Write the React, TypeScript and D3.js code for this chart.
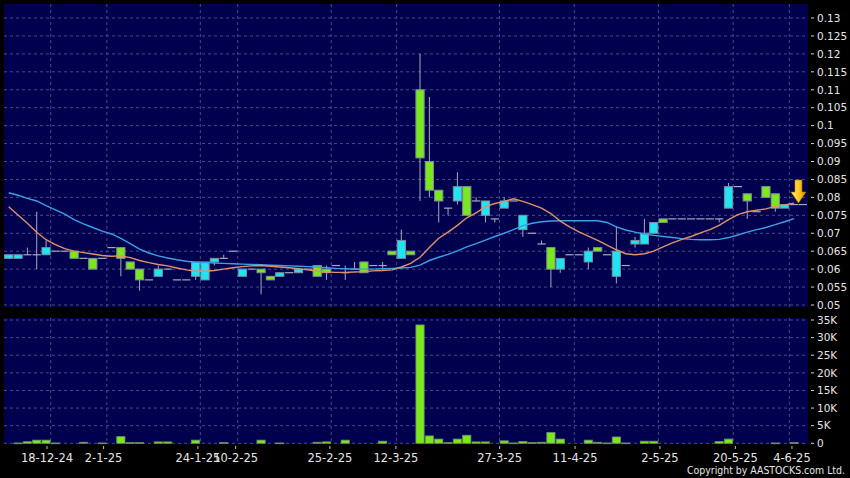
import * as d3 from 'd3';

// daily bars, oldest first (price in HKD, volume in thousands of shares)
const opens = [
  0.063, 0.063, 0.064, 0.064, 0.064, 0.065, 0.065, 0.065, 0.063, 0.063,
  0.063, 0.066, 0.066, 0.062, 0.060, 0.057, 0.058, 0.060, 0.057, 0.057,
  0.058, 0.057, 0.062, 0.063, 0.065, 0.058, 0.060, 0.060, 0.058, 0.058,
  0.059, 0.059, 0.060, 0.061, 0.060, 0.061, 0.059, 0.060, 0.062, 0.061,
  0.061, 0.065, 0.063, 0.065, 0.110, 0.090, 0.082, 0.077, 0.079, 0.083,
  0.079, 0.075, 0.074, 0.077, 0.079, 0.071, 0.070, 0.067, 0.066, 0.060,
  0.064, 0.064, 0.062, 0.066, 0.064, 0.058, 0.061, 0.067, 0.067, 0.070,
  0.074, 0.074, 0.074, 0.074, 0.074, 0.074, 0.074, 0.077, 0.083, 0.081,
  0.076, 0.083, 0.081, 0.077, 0.078,
];
const highs = [
  0.064, 0.064, 0.066, 0.076, 0.068, 0.065, 0.065, 0.065, 0.063, 0.063,
  0.063, 0.066, 0.066, 0.062, 0.060, 0.057, 0.061, 0.060, 0.057, 0.057,
  0.062, 0.062, 0.063, 0.064, 0.065, 0.060, 0.060, 0.060, 0.058, 0.059,
  0.059, 0.060, 0.060, 0.061, 0.061, 0.061, 0.061, 0.062, 0.062, 0.061,
  0.062, 0.065, 0.071, 0.065, 0.120, 0.108, 0.082, 0.077, 0.087, 0.083,
  0.080, 0.079, 0.074, 0.080, 0.079, 0.075, 0.070, 0.068, 0.066, 0.063,
  0.064, 0.064, 0.066, 0.066, 0.064, 0.072, 0.061, 0.069, 0.074, 0.073,
  0.074, 0.074, 0.074, 0.074, 0.074, 0.074, 0.074, 0.084, 0.083, 0.081,
  0.076, 0.083, 0.081, 0.078, 0.078,
];
const lows = [
  0.063, 0.063, 0.064, 0.060, 0.064, 0.065, 0.065, 0.063, 0.063, 0.060,
  0.063, 0.066, 0.058, 0.060, 0.054, 0.057, 0.058, 0.060, 0.057, 0.057,
  0.057, 0.057, 0.061, 0.063, 0.065, 0.058, 0.060, 0.053, 0.057, 0.058,
  0.059, 0.059, 0.060, 0.058, 0.057, 0.061, 0.057, 0.060, 0.059, 0.061,
  0.060, 0.064, 0.063, 0.064, 0.079, 0.080, 0.073, 0.075, 0.078, 0.075,
  0.079, 0.073, 0.073, 0.077, 0.079, 0.069, 0.070, 0.067, 0.055, 0.059,
  0.064, 0.064, 0.060, 0.065, 0.064, 0.056, 0.061, 0.066, 0.067, 0.070,
  0.073, 0.074, 0.074, 0.074, 0.074, 0.074, 0.073, 0.077, 0.083, 0.074,
  0.076, 0.080, 0.076, 0.077, 0.078,
];
const closes = [
  0.064, 0.064, 0.064, 0.064, 0.066, 0.065, 0.065, 0.063, 0.063, 0.060,
  0.063, 0.066, 0.063, 0.060, 0.057, 0.057, 0.060, 0.060, 0.057, 0.057,
  0.062, 0.062, 0.063, 0.063, 0.065, 0.060, 0.060, 0.059, 0.057, 0.059,
  0.059, 0.060, 0.060, 0.058, 0.059, 0.061, 0.059, 0.060, 0.059, 0.061,
  0.061, 0.064, 0.068, 0.064, 0.091, 0.082, 0.079, 0.077, 0.083, 0.075,
  0.079, 0.079, 0.074, 0.079, 0.079, 0.075, 0.070, 0.067, 0.060, 0.063,
  0.064, 0.064, 0.065, 0.065, 0.064, 0.065, 0.061, 0.068, 0.070, 0.073,
  0.073, 0.074, 0.074, 0.074, 0.074, 0.074, 0.074, 0.083, 0.083, 0.079,
  0.076, 0.080, 0.077, 0.078, 0.078,
];
const volumes = [
  0, 0.1, 0.45, 0.9, 0.9, 0.1, 0, 0, 0.3, 0,
  0.1, 0, 1.9, 0.2, 0.2, 0, 0.4, 0.4, 0, 0,
  0.9, 0, 0, 0.2, 0, 0, 0, 0.9, 0, 0.1,
  0, 0, 0, 0.3, 0.4, 0, 0.9, 0, 0, 0,
  0.6, 0, 0, 0, 33.6, 2.1, 1.2, 0.2, 1.2, 2.3,
  0.4, 0.4, 0, 0.7, 0.1, 0.5, 0.2, 0.3, 3.1, 1.2,
  0, 0, 0.9, 0.3, 0.1, 1.8, 0.1, 0, 0.6, 0.6,
  0, 0, 0, 0, 0, 0, 0.5, 1.2, 0, 0,
  0, 0, 0.1, 0, 0.2,
];
// moving averages as drawn (short = orange, long = blue)
const maShort = [
  0.0774, 0.0751, 0.0728, 0.0703, 0.0682, 0.0668, 0.0657, 0.0650, 0.0646, 0.0642,
  0.0638, 0.0636, 0.0637, 0.0632, 0.0624, 0.0618, 0.0613, 0.0609, 0.0603, 0.0598,
  0.0594, 0.0594, 0.0596, 0.0600, 0.0604, 0.0607, 0.0609, 0.0610, 0.0608, 0.0606,
  0.0604, 0.0601, 0.0598, 0.0594, 0.0592, 0.0591, 0.0591, 0.0592, 0.0593, 0.0595,
  0.0596, 0.0598, 0.0606, 0.0616, 0.0633, 0.0660, 0.0686, 0.0703, 0.0722, 0.0743,
  0.0757, 0.0774, 0.0783, 0.0789, 0.0796, 0.0789, 0.0780, 0.0770, 0.0755, 0.0734,
  0.0718, 0.0704, 0.0692, 0.0680, 0.0667, 0.0654, 0.0643, 0.0640, 0.0643, 0.0650,
  0.0662, 0.0673, 0.0683, 0.0691, 0.0701, 0.0710, 0.0722, 0.0738, 0.0752, 0.0760,
  0.0764, 0.0768, 0.0775, 0.0779, 0.0784,
];
const maLong = [
  0.0813, 0.0806, 0.0797, 0.0790, 0.0777, 0.0765, 0.0753, 0.0738, 0.0726, 0.0716,
  0.0706, 0.0698, 0.0686, 0.0671, 0.0656, 0.0645, 0.0637, 0.0631, 0.0626, 0.0622,
  0.0619, 0.0618, 0.0617, 0.0616, 0.0615, 0.0614, 0.0613, 0.0612, 0.0611, 0.0610,
  0.0609, 0.0608, 0.0607, 0.0606, 0.0604, 0.0602, 0.0601, 0.0600, 0.0600, 0.0600,
  0.0601, 0.0602, 0.0603, 0.0605, 0.0611, 0.0624, 0.0633, 0.0641, 0.0651, 0.0662,
  0.0671, 0.0681, 0.0691, 0.0700, 0.0710, 0.0721, 0.0728, 0.0732, 0.0734, 0.0735,
  0.0735, 0.0735, 0.0735, 0.0735, 0.0730, 0.0718, 0.0709, 0.0703, 0.0698, 0.0694,
  0.0691, 0.0688, 0.0685, 0.0683, 0.0682, 0.0682, 0.0683, 0.0688, 0.0695, 0.0703,
  0.0710, 0.0716, 0.0724, 0.0732, 0.0741,
];

const xTickBars = [4, 10, 20, 24, 34, 41, 52, 60, 69, 77, 83];
const xTickLabels = ['18-12-24', '2-1-25', '24-1-25', '10-2-25', '25-2-25', '12-3-25',
  '27-3-25', '11-4-25', '2-5-25', '20-5-25', '4-6-25'];
const priceTicks = [0.05, 0.055, 0.06, 0.065, 0.07, 0.075, 0.08, 0.085, 0.09,
  0.095, 0.1, 0.105, 0.11, 0.115, 0.12, 0.125, 0.13];
const priceTickLabels = ['0.05', '0.055', '0.06', '0.065', '0.07', '0.075', '0.08', '0.085',
  '0.09', '0.095', '0.1', '0.105', '0.11', '0.115', '0.12', '0.125', '0.13'];
const volTicks = [0, 5, 10, 15, 20, 25, 30, 35];
const volTickLabels = ['0', '5K', '10K', '15K', '20K', '25K', '30K', '35K'];

const W = 850;
const H = 478;
const plotL = 4;
const plotR = 808;
const main = { top: 4, bottom: 307 };
const vol = { top: 318, bottom: 444 };

const BG = '#00004e';
const GRID = '#4a4a88';
const UP = '#1ee4f4';
const DOWN = '#7ae81c';
const WICK = '#a9a9bb';
const FONT = '"DejaVu Sans", Verdana, sans-serif';

const App = () => {
  const n = closes.length;
  const x = d3.scaleBand<number>()
    .domain(d3.range(n + 1))
    .range([plotL, plotR])
    .padding(0);
  const step = x.step();
  const bw = step * 0.88;
  const cx = (i: number) => (x(i) ?? 0) + step / 2;
  // axis labels sit on a slightly wider scale than the bars
  const xLabel = d3.scaleLinear().domain([0, n]).range([9.3, 810.8]);

  const yP = d3.scaleLinear().domain([0.05, 0.13]).range([305, 18]);
  const yV = d3.scaleLinear().domain([0, 35]).range([443.3, 320]);

  const line = d3.line<number>()
    .x((_, i) => cx(i))
    .y((d) => yP(d))
    .curve(d3.curveLinear);

  const lastI = n - 1;
  const ax = cx(lastI) + 4.5;
  const ay = yP(closes[lastI]) - 1.5;

  return (
    <>
      <style>{'body{margin:0;background:#000}'}</style>
      <svg width={W} height={H} style={{ display: 'block', background: '#000' }}>
        <defs>
          <linearGradient id="arrowGrad" x1="0" y1="0" x2="1" y2="0">
            <stop offset="0" stopColor="#ffe98a" />
            <stop offset="0.5" stopColor="#ffcc22" />
            <stop offset="1" stopColor="#d99000" />
          </linearGradient>
        </defs>

        {/* panels */}
        <rect x={plotL} y={main.top} width={plotR - plotL} height={main.bottom - main.top} fill={BG} />
        <rect x={plotL} y={vol.top} width={plotR - plotL} height={vol.bottom - vol.top} fill={BG} />

        {/* horizontal grid */}
        {priceTicks.map((t) => (
          <line key={`pg${t}`} x1={plotL} x2={plotR} y1={yP(t)} y2={yP(t)}
            stroke={GRID} strokeDasharray="3,3" />
        ))}
        {volTicks.map((t) => (
          <line key={`vg${t}`} x1={plotL} x2={plotR} y1={yV(t)} y2={yV(t)}
            stroke={GRID} strokeDasharray="3,3" />
        ))}

        {/* vertical grid */}
        {xTickBars.map((b) => (
          <g key={`xg${b}`}>
            <line x1={cx(b) + step / 2} x2={cx(b) + step / 2} y1={main.top} y2={main.bottom}
              stroke={GRID} strokeDasharray="3,3" />
            <line x1={cx(b) + step / 2} x2={cx(b) + step / 2} y1={vol.top} y2={vol.bottom}
              stroke={GRID} strokeDasharray="3,3" />
          </g>
        ))}

        {/* candles */}
        {closes.map((c, i) => {
          const o = opens[i];
          const h = highs[i];
          const l = lows[i];
          const xc = cx(i);
          const wick = h > l ? (
            <line x1={xc} x2={xc} y1={yP(h)} y2={yP(l)} stroke={WICK} strokeWidth={1} />
          ) : null;
          if (o === c) {
            return (
              <g key={`c${i}`}>
                {wick}
                <line x1={xc - bw / 2} x2={xc + bw / 2} y1={yP(c)} y2={yP(c)}
                  stroke={WICK} strokeWidth={1.2} />
              </g>
            );
          }
          const top = yP(Math.max(o, c));
          const hgt = Math.max(1.5, Math.abs(yP(o) - yP(c)));
          return (
            <g key={`c${i}`}>
              {wick}
              <rect x={xc - bw / 2} y={top} width={bw} height={hgt}
                fill={c > o ? UP : DOWN} stroke="#7d8f9a" strokeWidth={1} />
            </g>
          );
        })}

        {/* moving averages */}
        <path d={line(maLong) ?? ''} fill="none" stroke="#3d9fe6" strokeWidth={1.4} />
        <path d={line(maShort) ?? ''} fill="none" stroke="#e0916c" strokeWidth={1.4} />

        {/* last price marker */}
        <path
          d={`M${ax - 3.5},${ay - 23} L${ax + 3.5},${ay - 23} L${ax + 3.5},${ay - 11} L${ax + 7.5},${ay - 11} L${ax},${ay} L${ax - 7.5},${ay - 11} L${ax - 3.5},${ay - 11} Z`}
          fill="url(#arrowGrad)" stroke="#b07800" strokeWidth={0.6} />
        <line x1={ax} x2={plotR - 1} y1={yP(closes[lastI])} y2={yP(closes[lastI])}
          stroke={WICK} strokeWidth={1.2} />

        {/* volume bars */}
        {volumes.map((v, i) => (v > 0 ? (
          <rect key={`v${i}`} x={cx(i) - bw / 2} y={yV(v)} width={bw}
            height={Math.max(0.8, yV(0) - yV(v))}
            fill={DOWN} stroke="#6f8a6a" strokeWidth={0.8} />
        ) : null))}

        {/* right axis labels */}
        {priceTicks.map((t, k) => (
          <g key={`pl${t}`}>
            <line x1={811} x2={814} y1={yP(t)} y2={yP(t)} stroke="#d0d0d0" />
            <text x={817} y={yP(t)} dy="0.36em" fill="#e6e6e6" fontSize={10.5} fontFamily={FONT}>
              {priceTickLabels[k]}
            </text>
          </g>
        ))}
        {volTicks.map((t, k) => (
          <g key={`vl${t}`}>
            <line x1={811} x2={814} y1={yV(t)} y2={yV(t)} stroke="#d0d0d0" />
            <text x={817} y={yV(t)} dy="0.36em" fill="#e6e6e6" fontSize={10.5} fontFamily={FONT}>
              {volTickLabels[k]}
            </text>
          </g>
        ))}

        {/* bottom axis */}
        {xTickBars.map((b, k) => (
          <g key={`xl${b}`}>
            <line x1={xLabel(b)} x2={xLabel(b)} y1={446} y2={449} stroke="#bdbdbd" />
            <text x={xLabel(b)} y={462} textAnchor="middle" fill="#e6e6e6"
              fontSize={11.5} fontFamily={FONT}>
              {xTickLabels[k]}
            </text>
          </g>
        ))}

        <text x={845} y={474} textAnchor="end" fill="#e6e6e6" fontSize={10}
          fontFamily={FONT} textLength={158} lengthAdjust="spacingAndGlyphs">
          Copyright by AASTOCKS.com Ltd.
        </text>
      </svg>
    </>
  );
};

export default App;
